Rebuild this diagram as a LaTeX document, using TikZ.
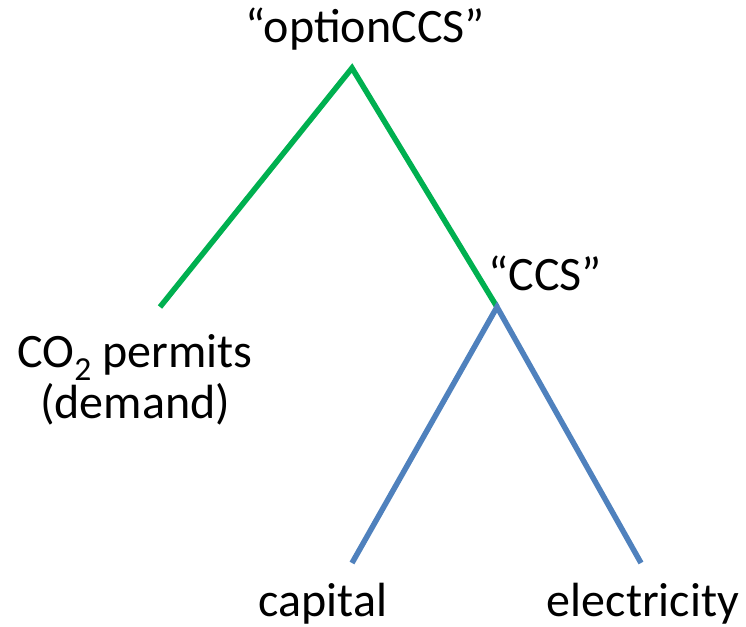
\documentclass[tikz,border=0pt]{standalone}
\usepackage{fontspec}
\setmainfont{Carlito}
\usetikzlibrary{positioning}
\definecolor{branchgreen}{RGB}{0,176,80}
\definecolor{branchblue}{RGB}{79,129,189}

\begin{document}
\begin{tikzpicture}[x=1pt, y=-1pt, every node/.style={font=\fontsize{48}{51}\selectfont, inner sep=0pt, anchor=base, align=center}]
\useasboundingbox (0,0) rectangle (746,626);
\coordinate (top) at (352,68);
\coordinate (ccs) at (497,307);
\coordinate (co2) at (160,307);
\coordinate (cap) at (352,563);
\coordinate (ele) at (641,563);
\node (optionccs) at (365,43) {“optionCCS”};
\node (ccslabel) at (545,290) {“CCS”};
\node (permits) at (135,418) {CO\textsubscript{2} permits\\(demand)};
\node (capital) at (323,616) {capital};
\node (electricity) at (643,616) {electricity};
\draw[branchgreen, line width=5.5pt, miter limit=10] (co2) -- (top) -- (ccs);
\draw[branchblue, line width=5.5pt, miter limit=10] (cap) -- (ccs) -- (ele);
\end{tikzpicture}
\end{document}
